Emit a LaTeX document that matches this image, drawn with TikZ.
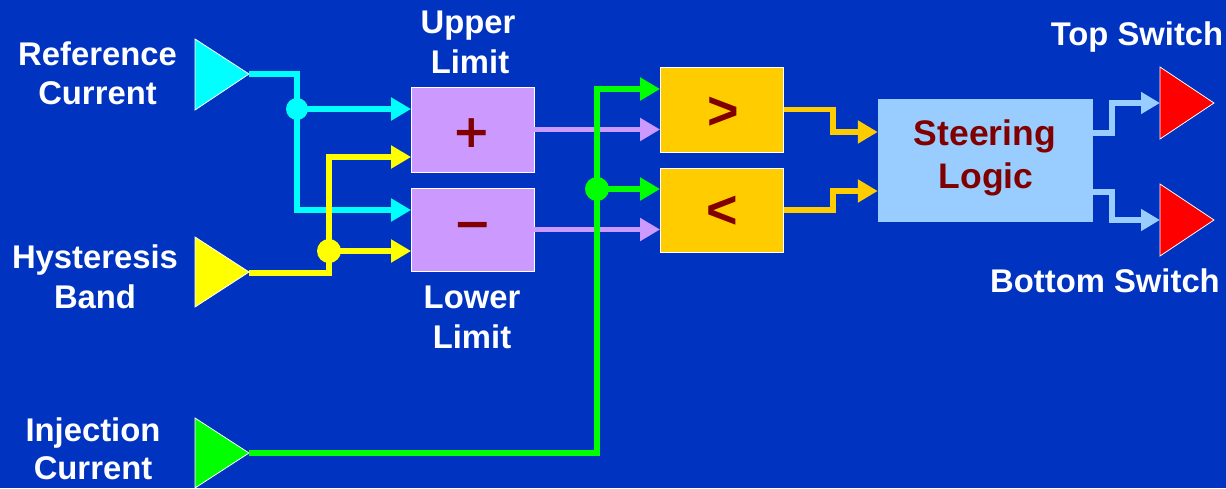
\documentclass[tikz,border=0pt]{standalone}
\usepackage{fontspec}
\setmainfont{Liberation Sans}
\newfontfamily\djv{DejaVu Sans}
\usetikzlibrary{arrows.meta,calc}
\definecolor{bg}{HTML}{0033C0}
\definecolor{lav}{HTML}{CC99FF}
\definecolor{gold}{HTML}{FFCC00}
\definecolor{sky}{HTML}{99CCFF}
\definecolor{dred}{HTML}{800000}
\definecolor{cyn}{HTML}{00FFFF}
\definecolor{ylw}{HTML}{FFFF00}
\definecolor{grn}{HTML}{00FF00}
\definecolor{rd}{HTML}{FF0000}
\tikzset{
  wire/.style={draw=#1, line width=5.5pt},
  arr/.style={-{Triangle[length=20pt,width=22pt]}},
  arrs/.style={-{Triangle[length=19pt,width=21pt]}},
  tri/.style={fill=#1, draw=white, line width=0.8pt, line join=miter},
  blk/.style={draw=white, line width=0.8pt, fill=#1, inner sep=0pt},
  lbl/.style={anchor=base, text=white, font=\fontsize{32.8}{38}\selectfont\bfseries, inner sep=0pt},
  slbl/.style={anchor=base, text=dred, font=\fontsize{35.5}{42}\selectfont\bfseries, inner sep=0pt},
  sym/.style={text=dred, inner sep=0pt},
  dot/.style={fill=#1}
}
\begin{document}
\begin{tikzpicture}[x=1pt,y=-1pt]
\fill[bg] (0,0) rectangle (1226,488);
\useasboundingbox (0,0) rectangle (1226,488);

% source and output triangles
\path[tri=cyn] (195,39) -- (249,74) -- (195,110) -- cycle;
\path[tri=ylw] (195,237) -- (249,272) -- (195,307) -- cycle;
\path[tri=grn] (195,418) -- (249,453) -- (195,488) -- cycle;
\path[tri=rd] (1160,67) -- (1214,103) -- (1160,139) -- cycle;
\path[tri=rd] (1160,184) -- (1214,220) -- (1160,256) -- cycle;
\coordinate (refO) at (249,74);
\coordinate (hysO) at (249,273);
\coordinate (injO) at (249,453);
\coordinate (topI) at (1160,103);
\coordinate (botI) at (1160,220);

% blocks
\node[blk=lav, minimum width=122.5pt, minimum height=85pt] (plus) at (472.75,129.5) {};
\node[blk=lav, minimum width=122.5pt, minimum height=83pt] (minus) at (472.75,229.5) {};
\node[blk=gold, minimum width=123pt, minimum height=85pt] (gt) at (722,109.5) {};
\node[blk=gold, minimum width=123pt, minimum height=84pt] (lt) at (722,210) {};
\node[fill=sky, inner sep=0pt, minimum width=215pt, minimum height=123pt] (steer) at (985.5,160.5) {};

% block symbols and texts
\node[sym, font=\djv\fontsize{46}{46}\selectfont\bfseries] (plussym) at (472,133) {+};
\node[sym, font=\djv\fontsize{46}{46}\selectfont\bfseries] (minussym) at (473,231) {−};
\node[sym, font=\fontsize{54}{54}\selectfont\bfseries] (gtsym) at (723,113) {>};
\node[sym, font=\fontsize{54}{54}\selectfont\bfseries] (ltsym) at (722,212) {<};
\node[slbl] (st1) at (985,145) {Steering};
\node[slbl] (st2) at (986,188) {Logic};

% wires: cyan
\coordinate (cB) at (297,210);
\coordinate (cJ) at (297,109);
\draw[wire=cyn, arr] (refO) -| (cB) -- (cB -| minus.west);
\draw[wire=cyn, arr] (cJ) -- (cJ -| plus.west);
\fill[dot=cyn] (cJ) circle[radius=11pt];

% wires: yellow
\coordinate (yB) at (329,157);
\coordinate (yJ) at (329,251);
\draw[wire=ylw, arr] (hysO) -| (yB) -- (yB -| plus.west);
\draw[wire=ylw, arr] (yJ) -- (yJ -| minus.west);
\fill[dot=ylw] (yJ) circle[radius=12pt];

% wires: lavender
\draw[wire=lav, arr] (plus.east) -- (plus.east -| gt.west);
\draw[wire=lav, arr] (minus.east) -- (minus.east -| lt.west);

% wires: green
\coordinate (gB) at (597,89);
\coordinate (gJ) at (597,189);
\draw[wire=grn, line width=6pt, arr] (injO) -| (gB) -- (gB -| gt.west);
\draw[wire=grn, line width=6pt, arr] (gJ) -- (gJ -| lt.west);
\fill[dot=grn] (gJ) circle[radius=12pt];

% wires: gold
\coordinate (oA) at (833,132);
\coordinate (oB) at (833,191);
\draw[wire=gold, arr] (gt.east) -| (oA) -- (oA -| steer.west);
\draw[wire=gold, arr] (lt.east) -| (oB) -- (oB -| steer.west);

% wires: sky
\coordinate (sA) at ($(steer.north east)+(0,34)$);
\coordinate (sB) at ($(steer.north east)+(0,93)$);
\coordinate (bA) at (1112,103);
\coordinate (bB) at (1112,220);
\draw[wire=sky, line width=6pt, arrs] (sA) -| (bA) -- (topI);
\draw[wire=sky, line width=6pt, arrs] (sB) -| (bB) -- (botI);

% labels
\node[lbl] (ref1) at (97.5,65) {Reference};
\node[lbl] (ref2) at (97.5,104) {Current};
\node[lbl] (hys1) at (95,268) {Hysteresis};
\node[lbl] (hys2) at (95,308) {Band};
\node[lbl] (inj1) at (93,441) {Injection};
\node[lbl] (inj2) at (93,479) {Current};
\node[lbl] (up1) at (468,33) {Upper};
\node[lbl] (up2) at (470,73) {Limit};
\node[lbl] (lo1) at (472,308) {Lower};
\node[lbl] (lo2) at (472,348) {Limit};
\node[lbl] (ts) at (1137,45) {Top Switch};
\node[lbl] (bs) at (1105,292) {Bottom Switch};
\end{tikzpicture}
\end{document}
